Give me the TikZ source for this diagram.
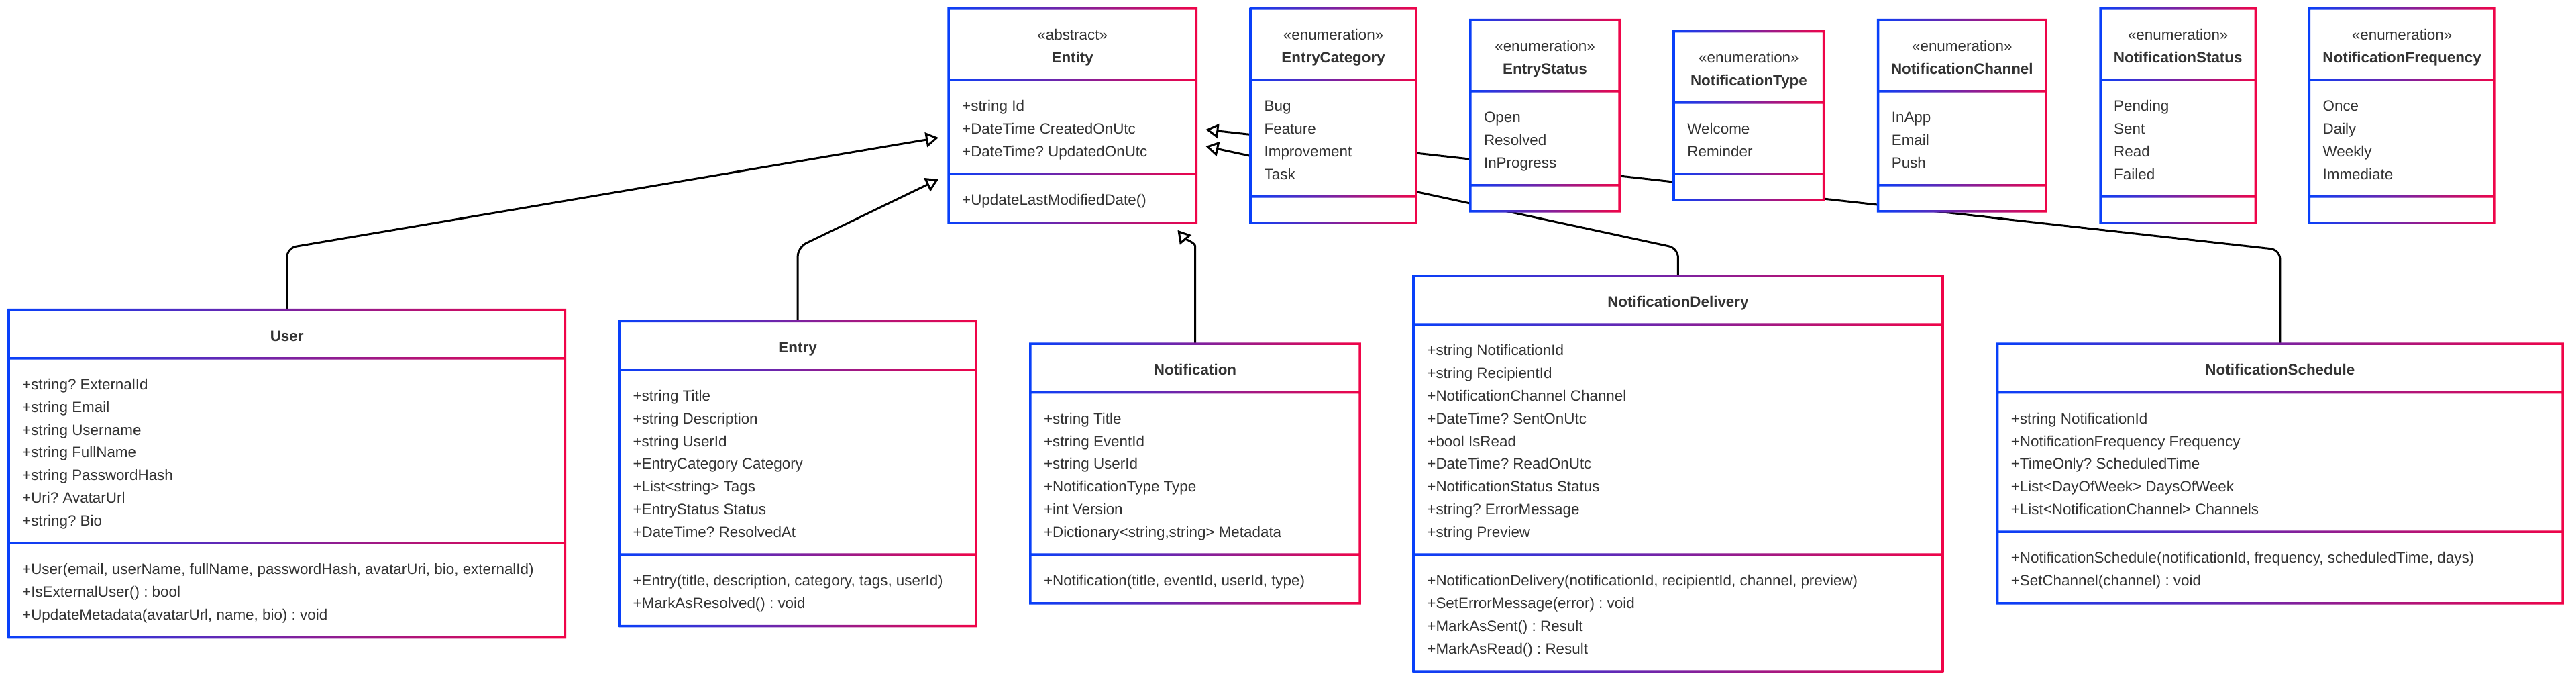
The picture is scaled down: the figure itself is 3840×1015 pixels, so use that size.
\documentclass[tikz,border=0pt]{standalone}
\usepackage{fontspec}
\setmainfont{Liberation Sans}
\frenchspacing
\usetikzlibrary{calc,positioning,arrows.meta}
\pgfdeclarelayer{background}
\pgfsetlayers{background,main}

\definecolor{umlblue}{RGB}{8,64,250}
\definecolor{umlred}{RGB}{240,4,72}
\definecolor{textgray}{RGB}{51,51,51}

\tikzset{
  classbox/.style={rectangle, fill=white, inner sep=0pt},
  classtext/.style={font=\fontsize{22.4}{27}\selectfont, text=textgray, inner sep=0pt, text height=16pt, text depth=0pt},
  member/.style={classtext, anchor=west},
  inherit/.style={line width=3pt, rounded corners=14pt, -{Triangle[open, length=19pt, width=22pt, line width=3pt]}},
}

\newcommand{\lineh}{33.8}
\newcommand{\secpad}{38.6}

% #1 name, #2 placement, #3 width, #4 #5 #6 lines in header, attributes, methods
\newcommand{\umlclass}[6]{%
  \pgfmathsetmacro\hdrh{\secpad+\lineh*#4}%
  \pgfmathsetmacro\atth{\secpad+\lineh*#5}%
  \pgfmathsetmacro\meth{\secpad+\lineh*#6}%
  \pgfmathsetmacro\boxh{\hdrh+\atth+\meth}%
  \node[classbox, minimum width=#3pt, minimum height=\boxh pt, #2] (#1) {};
  \shade[left color=umlblue, right color=umlred, even odd rule]
    ($(#1.north west)+(-1.75,-1.75)$) rectangle ($(#1.south east)+(1.75,1.75)$)
    ($(#1.north west)+(1.75,1.75)$) rectangle ($(#1.south east)+(-1.75,-1.75)$)
    ($(#1.north west)+(1.75,\hdrh-1.75)$) rectangle ($(#1.north east)+(-1.75,\hdrh+1.75)$)
    ($(#1.north west)+(1.75,\hdrh+\atth-1.75)$) rectangle ($(#1.north east)+(-1.75,\hdrh+\atth+1.75)$);
}
% centred lines of the header
\newcommand{\headlines}[2]{%
  \foreach \txt [count=\i from 0] in {#2}
    \node[classtext] (#1-h\i) at ($(#1.north)+(0,{\secpad+\i*\lineh})$) {\txt};
}
% #1 node, #2 tag, #3 offset of the section, #4 lines
\newcommand{\memberlist}[4]{%
  \foreach \txt [count=\i from 0] in {#4}
    \node[member] (#1-#2\i) at ($(#1.north west)+(20,{#3+\secpad+\i*\lineh})$) {\txt};
}

\begin{document}
\begin{tikzpicture}[x=1pt, y=-1pt]
\useasboundingbox (0,0) rectangle (3840,1015);

% top row: Entity and the enumerations
\umlclass{entity}{anchor=west, at={(1414,172.3)}}{369}{2}{3}{1}
\headlines{entity}{«abstract», \textbf{Entity}}
\memberlist{entity}{a}{\hdrh}{+string Id, +DateTime CreatedOnUtc, +DateTime? UpdatedOnUtc}
\memberlist{entity}{m}{\hdrh+\atth}{{+UpdateLastModifiedDate()}}

\umlclass{entrycat}{right=81pt of entity}{246}{2}{4}{0}
\headlines{entrycat}{«enumeration», \textbf{EntryCategory}}
\memberlist{entrycat}{a}{\hdrh}{Bug, Feature, Improvement, Task}

\umlclass{entrystatus}{right=81pt of entrycat}{222}{2}{3}{0}
\headlines{entrystatus}{«enumeration», \textbf{EntryStatus}}
\memberlist{entrystatus}{a}{\hdrh}{Open, Resolved, InProgress}

\umlclass{notiftype}{right=81pt of entrystatus}{223}{2}{2}{0}
\headlines{notiftype}{«enumeration», \textbf{NotificationType}}
\memberlist{notiftype}{a}{\hdrh}{Welcome, Reminder}

\umlclass{notifchannel}{right=81pt of notiftype}{250}{2}{3}{0}
\headlines{notifchannel}{«enumeration», \textbf{NotificationChannel}}
\memberlist{notifchannel}{a}{\hdrh}{InApp, Email, Push}

\umlclass{notifstatus}{right=81pt of notifchannel}{231}{2}{4}{0}
\headlines{notifstatus}{«enumeration», \textbf{NotificationStatus}}
\memberlist{notifstatus}{a}{\hdrh}{Pending, Sent, Read, Failed}

\umlclass{notiffreq}{right=80pt of notifstatus}{276}{2}{4}{0}
\headlines{notiffreq}{«enumeration», \textbf{NotificationFrequency}}
\memberlist{notiffreq}{a}{\hdrh}{Once, Daily, Weekly, Immediate}

% bottom row: the entities
\umlclass{user}{anchor=west, at={(13,705.5)}}{829}{1}{7}{3}
\headlines{user}{\textbf{User}}
\memberlist{user}{a}{\hdrh}{+string? ExternalId, +string Email, +string Username, +string FullName,
  +string PasswordHash, +Uri? AvatarUrl, +string? Bio}
\memberlist{user}{m}{\hdrh+\atth}{{+User(email, userName, fullName, passwordHash, avatarUri, bio, externalId)},
  {+IsExternalUser() : bool}, {+UpdateMetadata(avatarUrl, name, bio) : void}}

\umlclass{entry}{right=81pt of user}{531}{1}{7}{2}
\headlines{entry}{\textbf{Entry}}
\memberlist{entry}{a}{\hdrh}{+string Title, +string Description, +string UserId, +EntryCategory Category,
  +List<string> Tags, +EntryStatus Status, +DateTime? ResolvedAt}
\memberlist{entry}{m}{\hdrh+\atth}{{+Entry(title, description, category, tags, userId)}, {+MarkAsResolved() : void}}

\umlclass{notification}{right=81pt of entry}{491}{1}{6}{1}
\headlines{notification}{\textbf{Notification}}
\memberlist{notification}{a}{\hdrh}{+string Title, +string EventId, +string UserId, +NotificationType Type,
  +int Version, {+Dictionary<string,string> Metadata}}
\memberlist{notification}{m}{\hdrh+\atth}{{+Notification(title, eventId, userId, type)}}

\umlclass{delivery}{right=80pt of notification}{788}{1}{9}{4}
\headlines{delivery}{\textbf{NotificationDelivery}}
\memberlist{delivery}{a}{\hdrh}{+string NotificationId, +string RecipientId, +NotificationChannel Channel,
  +DateTime? SentOnUtc, +bool IsRead, +DateTime? ReadOnUtc, +NotificationStatus Status,
  +string? ErrorMessage, +string Preview}
\memberlist{delivery}{m}{\hdrh+\atth}{{+NotificationDelivery(notificationId, recipientId, channel, preview)},
  {+SetErrorMessage(error) : void}, {+MarkAsSent() : Result}, {+MarkAsRead() : Result}}

\umlclass{schedule}{right=82pt of delivery}{842}{1}{5}{2}
\headlines{schedule}{\textbf{NotificationSchedule}}
\memberlist{schedule}{a}{\hdrh}{+string NotificationId, +NotificationFrequency Frequency,
  +TimeOnly? ScheduledTime, +List<DayOfWeek> DaysOfWeek, +List<NotificationChannel> Channels}
\memberlist{schedule}{m}{\hdrh+\atth}{{+NotificationSchedule(notificationId, frequency, scheduledTime, days)},
  {+SetChannel(channel) : void}}

% inheritance, drawn behind the boxes
\begin{pgfonlayer}{background}
  \fill[white] (0,0) rectangle (3840,1015);
  \coordinate (entity-in1) at ($(entity.west)+(-15,32.7)$);
  \coordinate (entity-in2) at ($(entity.west)+(-15,94.7)$);
  \coordinate (entity-in3) at ($(entity.south east)+(-28,11)$);
  \coordinate (entity-in4) at ($(entity.east)+(14,45.7)$);
  \coordinate (entity-in5) at ($(entity.east)+(14,20.7)$);
  \draw[inherit] (user.north) -- ++(0,-92) -- (entity-in1);
  \draw[inherit] (entry.north) -- ++(0,-110) -- (entity-in2);
  \draw[inherit] (notification.north) -- ++(0,-132) .. controls +(0,-18) and +(10,12) .. (entity-in3);
  \draw[inherit] (delivery.north) -- ++(0,-41) -- (entity-in4);
  \draw[inherit] (schedule.north) -- ++(0,-140) -- (entity-in5);
\end{pgfonlayer}
\end{tikzpicture}
\end{document}
